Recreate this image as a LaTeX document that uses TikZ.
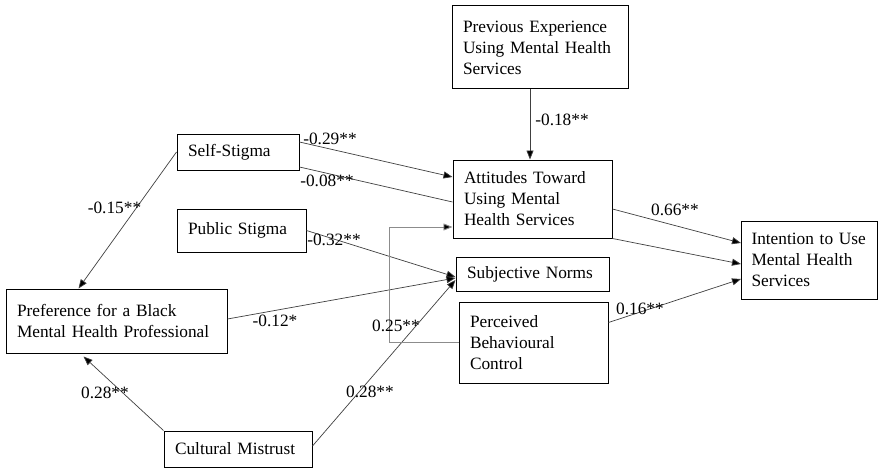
\documentclass[tikz,border=0pt]{standalone}
\usepackage{fontspec}
\setmainfont{Liberation Serif}
\usetikzlibrary{arrows.meta,calc}
\begin{document}
\begin{tikzpicture}[x=1pt,y=-1pt,
  box/.style={draw=black,line width=1pt,rectangle,align=left,inner xsep=11pt,inner ysep=0pt,
    font=\fontsize{17.3}{21}\selectfont},
  conn/.style={draw=black!75,line width=0.7pt},
  arr/.style={conn,-{Triangle[length=9pt,width=7pt,fill=black]}},
  elbow/.style={draw=black!45,line width=0.9pt,-{Triangle[length=9pt,width=7pt,fill=black]}},
  lbl/.style={inner sep=0pt,font=\fontsize{17.3}{21}\selectfont}]
\useasboundingbox[fill=white] (0,0) rectangle (880,468);

\node[box,text width=154pt,minimum height=83pt] (prev) at (540,47.5) {Previous Experience\\Using Mental Health\\Services};
\node[box,text width=137pt,minimum height=78pt] (att) at (532.5,199) {Attitudes Toward\\Using Mental\\Health Services};
\node[box,text width=100pt,minimum height=36pt] (ss) at (238,152) {Self-Stigma};
\node[box,text width=107pt,minimum height=43pt] (ps) at (241.5,230.5) {Public Stigma};
\node[box,text width=131pt,minimum height=34pt] (sn) at (532.5,274) {Subjective Norms};
\node[box,text width=127pt,minimum height=81pt] (pbc) at (533.5,342.5) {Perceived\\Behavioural\\Control};
\node[box,text width=124pt,minimum height=78pt,inner xsep=6pt] (int) at (809.5,260) {\hspace*{4pt}Intention to Use\\\hspace*{4pt}Mental Health\\\hspace*{4pt}Services};
\node[box,text width=199pt,minimum height=64pt] (pref) at (116.5,321) {Preference for a Black\\Mental Health Professional};
\node[box,text width=126pt,minimum height=36pt] (cm) at (238,449) {Cultural Mistrust};

% connectors
\draw[arr] ([xshift=-10pt]prev.south) -- ([xshift=-10pt]prev.south |- att.north);
\draw[arr] ([yshift=10pt]ss.east) -- ([yshift=22pt]att.west);
\draw[conn] ([yshift=-15pt]ss.east) -- ([yshift=-3pt]att.west);
\draw[arr] (ss.west) -- ([xshift=-38pt]pref.north);
\draw[arr] (ps.east) -- ([yshift=-3pt]sn.west);
\draw[arr] ([yshift=2pt]pref.east) -- ([yshift=-4pt]sn.west);
\draw[arr] ([yshift=3pt]cm.east) -- ([yshift=-6pt]sn.west);
\draw[arr] (cm.north west) -- ([xshift=-33pt,yshift=-3pt]pref.south);
\draw[elbow] (pbc.west) -- ++(-69,0) |- ([yshift=-28pt]att.west);
\draw[arr] ([yshift=-10pt]att.east) -- ([yshift=17pt]int.west);
\draw[arr] (att.south east) -- ([yshift=-4pt]int.west);
\draw[arr] ([yshift=20pt]pbc.east) -- ([yshift=-19pt]int.west);

% labels
\node[lbl] (l1) at (330,139) {-0.29**};
\node[lbl] (l2) at (327,181) {-0.08**};
\node[lbl] (l3) at (334,240) {-0.32**};
\node[lbl] (l4) at (114.5,208) {-0.15**};
\node[lbl] (l5) at (275,321) {-0.12*};
\node[lbl] (l6) at (396,326) {0.25**};
\node[lbl] (l7) at (105,393) {0.28**};
\node[lbl] (l8) at (370,392) {0.28**};
\node[lbl] (l9) at (562,120) {-0.18**};
\node[lbl] (l10) at (675,210) {0.66**};
\node[lbl] (l11) at (640,309) {0.16**};
\end{tikzpicture}
\end{document}
